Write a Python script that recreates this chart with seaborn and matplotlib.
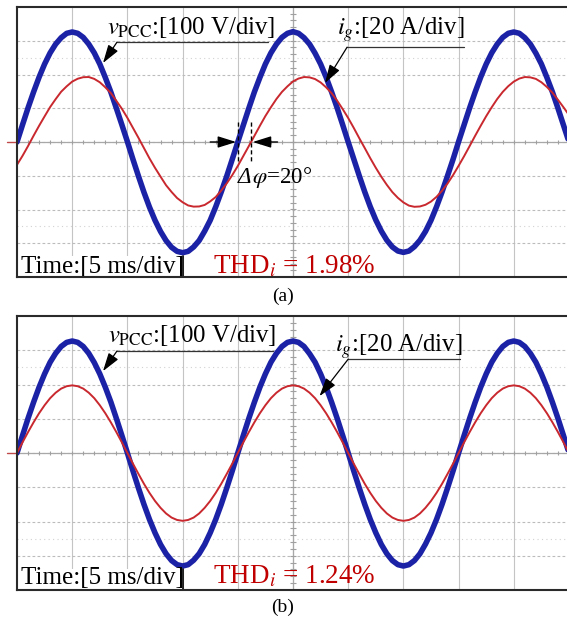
import numpy as np
import pandas as pd
import matplotlib
matplotlib.use("Agg")
import matplotlib.pyplot as plt
import seaborn as sns

# sample times, ms (scope: 5 ms/div, 10 div, one sample every 0.5 ms)
t_ms = np.arange(0, 50.5, 0.5)

# (a) PCC voltage [V] and grid current [A]
v_pcc_a = [0, 51, 101, 148, 192, 231, 264, 290, 309, 322, 326, 322, 310, 290, 264, 231, 191, 148, 100, 51, 1,
           -51, -101, -149, -193, -232, -265, -292, -312, -324, -328, -324, -311, -292, -264, -232, -192, -148, -101, -51, 0,
           50, 100, 148, 191, 231, 264, 290, 310, 322, 327, 322, 309, 290, 263, 231, 192, 148, 101, 51, 0,
           -50, -100, -148, -192, -231, -264, -291, -311, -323, -327, -323, -310, -291, -265, -232, -192, -148, -100, -51, 1,
           51, 101, 148, 192, 231, 264, 290, 310, 322, 326, 322, 309, 290, 263, 231, 191, 148, 100, 50, 0]
i_g_a = [-13.5, -8.2, -2.4, 3.7, 9.6, 15.2, 20.7, 25.4, 29.8, 33.0, 35.8, 37.5, 38.4, 38.5, 37.4, 35.4, 32.4, 29.0, 24.4, 19.7, 14.3,
         8.4, 2.5, -3.6, -9.7, -15.3, -20.5, -25.6, -29.6, -33.2, -35.7, -37.6, -38.3, -38.2, -37.3, -35.2, -32.6, -28.8, -24.5, -19.6, -14.2,
         -8.3, -2.4, 3.6, 9.6, 15.4, 20.6, 25.5, 29.7, 33.0, 35.9, 37.6, 38.5, 38.3, 37.3, 35.3, 32.4, 28.9, 24.5, 19.5, 14.2,
         8.4, 2.3, -3.6, -9.6, -15.3, -20.6, -25.4, -29.7, -33.1, -35.8, -37.7, -38.4, -38.2, -37.2, -35.3, -32.5, -28.9, -24.6, -19.6, -14.1,
         -8.4, -2.4, 3.7, 9.6, 15.3, 20.6, 25.5, 29.7, 33.1, 35.8, 37.6, 38.5, 38.3, 37.4, 35.4, 32.6, 29.2, 25.0, 20.6, 16.0]

# (b) after compensation, current in phase with voltage
v_pcc_b = [0, 51, 101, 148, 192, 231, 265, 291, 311, 323, 327, 323, 311, 291, 264, 231, 192, 149, 101, 51, 0,
           -52, -102, -150, -194, -233, -267, -294, -314, -326, -330, -326, -313, -294, -267, -233, -194, -150, -102, -52, 0,
           51, 101, 148, 192, 231, 265, 291, 311, 323, 327, 323, 311, 290, 265, 231, 192, 148, 101, 51, 0,
           -52, -102, -150, -194, -233, -267, -294, -314, -326, -330, -326, -314, -294, -266, -233, -194, -150, -102, -52, 0,
           51, 101, 148, 192, 231, 265, 291, 311, 323, 327, 323, 311, 291, 265, 231, 192, 148, 101, 51, 0]
i_g_b = [0, 6.2, 12.2, 17.9, 23.2, 27.9, 32.0, 35.2, 37.6, 39.0, 39.5, 39.0, 37.6, 35.2, 32.0, 27.9, 23.2, 17.9, 12.2, 6.2, 0,
         -6.2, -12.2, -18.0, -23.3, -28.0, -32.0, -35.3, -37.7, -39.1, -39.6, -39.1, -37.7, -35.3, -32.0, -28.0, -23.3, -18.0, -12.2, -6.2, 0,
         6.2, 12.2, 17.9, 23.2, 27.9, 32.0, 35.2, 37.6, 39.0, 39.5, 39.0, 37.6, 35.2, 32.0, 27.9, 23.2, 17.9, 12.2, 6.2, 0,
         -6.2, -12.2, -18.0, -23.3, -28.0, -32.0, -35.3, -37.7, -39.1, -39.6, -39.1, -37.7, -35.3, -32.0, -28.0, -23.3, -18.0, -12.2, -6.2, 0,
         6.2, 12.2, 17.9, 23.2, 27.9, 32.0, 35.2, 37.6, 39.0, 39.5, 39.0, 37.6, 35.2, 32.0, 27.9, 23.2, 17.9, 12.2, 6.2, 0]

thd_labels = ["1.98%", "1.24%"]
panel_labels = ["(a)", "(b)"]

V_DIV = 100.0   # V/div
I_DIV = 20.0    # A/div

sns.set_theme(style="white")
plt.rcParams["font.family"] = ["Liberation Serif", "DejaVu Serif"]
plt.rcParams["mathtext.fontset"] = "stix"
plt.rcParams["text.color"] = "black"

BLUE = "#1c22a6"
RED = "#c8282e"
THD_RED = "#c00000"
ARROW = "-|>,head_length=0.7,head_width=0.22"

fig = plt.figure(figsize=(5.67, 6.22), dpi=100)
ax_a = fig.add_axes([17 / 567, 1 - 277 / 622, 552 / 567, 270 / 622])
ax_b = fig.add_axes([17 / 567, 1 - 590 / 622, 552 / 567, 274 / 622])


def scope_axes(ax):
    ax.set_xlim(0, 50)
    ax.set_ylim(-4, 4)
    ax.set_xticks([])
    ax.set_yticks([])
    ax.grid(False)
    for x in np.arange(5, 50, 5):
        ax.axvline(x, color="#c4c4c4", lw=0.8, zorder=1)
    for y in np.arange(-3, 4, 1):
        ax.axhline(y, color="#bcbcbc", lw=0.8, ls=(0, (2.5, 2)), zorder=1)
    for y in (-2.5, 2.5):
        ax.axhline(y, color="#d2d2d2", lw=0.8, ls=(0, (1, 3)), zorder=1)
    ax.axhline(0, color="#a8a8a8", lw=0.9, zorder=1)
    ax.axvline(25, color="#a8a8a8", lw=0.9, zorder=1)
    ax.vlines(np.arange(1, 50, 1), -0.06, 0.06, color="#a0a0a0", lw=0.8, zorder=1)
    ax.hlines(np.arange(-3.8, 4, 0.2), 24.75, 25.25, color="#a0a0a0", lw=0.8, zorder=1)
    for side in ("left", "top", "bottom"):
        ax.spines[side].set_color("#2a2a2a")
        ax.spines[side].set_linewidth(1.5)
        ax.spines[side].set_zorder(10)
    ax.spines["right"].set_visible(False)
    # channel marker at the left edge
    ax.plot([-0.9, 0], [0, 0], color="#c04848", lw=1.0, clip_on=False)


def draw_traces(ax, v, i):
    df = pd.DataFrame({"t": t_ms, "v": np.array(v) / V_DIV, "i": np.array(i) / I_DIV})
    sns.lineplot(data=df, x="t", y="v", ax=ax, color=BLUE, lw=4.0, zorder=4)
    sns.lineplot(data=df, x="t", y="i", ax=ax, color=RED, lw=1.4, zorder=5)
    ax.set_xlabel("")
    ax.set_ylabel("")


def pointer(ax, head, tail, lw=0.9):
    ax.annotate("", xy=head, xytext=tail,
                arrowprops=dict(arrowstyle=ARROW, color="black", lw=lw,
                                mutation_scale=16, shrinkA=0, shrinkB=0), zorder=8)


def labels(ax, v_txt, v_line, v_head, i_txt, i_line, i_head, thd, box_top, time_y):
    fs = 17.8
    ax.text(v_txt[0], v_txt[1], r"$v_{\mathrm{PCC}}$:[100 V/div]", fontsize=fs,
            va="baseline", zorder=8)
    ax.plot([v_line[0], v_line[1]], [v_line[2], v_line[2]], color="#333333", lw=0.9, zorder=8)
    pointer(ax, v_head, (v_line[0], v_line[2]))
    ax.text(i_txt[0], i_txt[1], r"$i_g$:[20 A/div]", fontsize=fs, va="baseline", zorder=8)
    ax.plot([i_line[0], i_line[1]], [i_line[2], i_line[2]], color="#333333", lw=0.9, zorder=8)
    pointer(ax, i_head, (i_line[0], i_line[2]))
    # time/div box
    ax.fill_between([0, 15], -4, box_top, color="white", zorder=7, lw=0)
    ax.plot([15, 15], [box_top, -4], color="black", lw=1.2, zorder=8)
    ax.text(0.36, time_y, "Time:[5 ms/div]", fontsize=18, va="baseline", zorder=9)
    ax.text(17.75, time_y, r"THD$_i$ = " + thd, fontsize=19.5, va="baseline",
            color=THD_RED, zorder=9)


scope_axes(ax_a)
scope_axes(ax_b)
draw_traces(ax_a, v_pcc_a, i_g_a)
draw_traces(ax_b, v_pcc_b, i_g_b)

labels(ax_a, (8.15, 3.2), (9.06, 22.7, 2.96), (7.79, 2.34),
       (29.0, 3.17), (29.9, 40.5, 2.81), (27.9, 1.75), thd_labels[0], -3.38, -3.88)
labels(ax_b, (8.24, 3.24), (9.06, 23.2, 2.98), (7.79, 2.39),
       (28.8, 2.95), (30.0, 40.1, 2.74), (27.4, 1.66), thd_labels[1], -3.39, -3.82)

# phase shift marker in (a)
for x in (20.0, 21.2):
    ax_a.plot([x, x], [0.59, -0.59], color="black", lw=1.0, ls=(0, (3, 2)), zorder=8)
pointer(ax_a, (19.85, 0), (17.5, 0), lw=1.0)
pointer(ax_a, (21.35, 0), (23.6, 0), lw=1.0)
ax_a.text(20.0, -1.21, "Δ", fontsize=16.5, style="italic", va="baseline", zorder=8)
ax_a.annotate(r"$\varphi$=20°", xy=(20.0, -1.21), xytext=(10.5, 0), textcoords="offset points",
              fontsize=16.5, va="baseline", zorder=8)

fig.text(283 / 567, 1 - 296 / 622, panel_labels[0], fontsize=14, ha="center", va="center")
fig.text(283 / 567, 1 - 607 / 622, panel_labels[1], fontsize=14, ha="center", va="center")

fig.savefig("out.png", dpi=100)
